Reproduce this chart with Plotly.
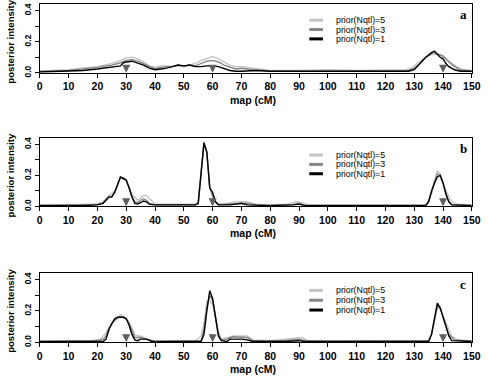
import plotly.graph_objects as go

# ---------------- data ----------------
PANELS = ["a", "b", "c"]
SERIES_NAMES = ["prior(Nqtl)=5", "prior(Nqtl)=3", "prior(Nqtl)=1"]
QTL_POSITIONS = [30, 60, 140]
X_TICKS = [0, 10, 20, 30, 40, 50, 60, 70, 80, 90, 100, 110, 120, 130, 140, 150]
Y_TICKS = [0.0, 0.2, 0.4]

# panel a
a5_x = [0, 10, 20, 25, 28, 30, 32, 34, 36, 38, 40, 42, 44, 46, 48, 50, 52, 54, 56, 58, 60, 62, 64, 66, 68, 70, 74, 78, 80, 90, 100, 110, 120, 127, 129, 131, 133, 135, 137, 139, 141, 143, 145, 147, 150]
a5_y = [0.01, 0.02, 0.04, 0.06, 0.08, 0.095, 0.1, 0.09, 0.07, 0.045, 0.035, 0.045, 0.045, 0.04, 0.045, 0.04, 0.05, 0.06, 0.08, 0.095, 0.105, 0.09, 0.07, 0.05, 0.04, 0.04, 0.03, 0.02, 0.015, 0.015, 0.02, 0.015, 0.02, 0.02, 0.03, 0.06, 0.09, 0.11, 0.12, 0.115, 0.09, 0.06, 0.035, 0.02, 0.015]
a3_x = [0, 10, 20, 25, 28, 30, 32, 34, 36, 38, 40, 42, 44, 46, 48, 50, 52, 54, 56, 58, 60, 62, 64, 66, 68, 70, 74, 78, 80, 90, 100, 110, 120, 128, 130, 132, 134, 136, 137, 138, 140, 142, 144, 146, 148, 150]
a3_y = [0.01, 0.015, 0.035, 0.05, 0.065, 0.08, 0.085, 0.075, 0.06, 0.04, 0.025, 0.035, 0.04, 0.04, 0.05, 0.04, 0.05, 0.045, 0.06, 0.075, 0.08, 0.07, 0.05, 0.035, 0.025, 0.03, 0.02, 0.015, 0.01, 0.01, 0.012, 0.01, 0.012, 0.015, 0.03, 0.06, 0.1, 0.125, 0.13, 0.125, 0.11, 0.07, 0.04, 0.02, 0.015, 0.01]
a1_x = [0, 5, 10, 15, 20, 25, 28, 29, 30, 32, 34, 36, 38, 40, 42, 44, 46, 48, 50, 52, 54, 56, 58, 60, 62, 64, 66, 68, 70, 75, 80, 90, 100, 110, 120, 128, 130, 132, 134, 136, 137, 138, 139, 140, 141, 142, 144, 146, 148, 150]
a1_y = [0.005, 0.007, 0.01, 0.015, 0.025, 0.035, 0.045, 0.065, 0.07, 0.075, 0.065, 0.05, 0.03, 0.02, 0.025, 0.03, 0.04, 0.05, 0.045, 0.05, 0.04, 0.04, 0.045, 0.045, 0.04, 0.025, 0.015, 0.01, 0.01, 0.015, 0.01, 0.01, 0.01, 0.01, 0.01, 0.01, 0.02, 0.06, 0.1, 0.13, 0.14, 0.12, 0.1, 0.09, 0.06, 0.04, 0.02, 0.01, 0.01, 0.01]

# panel b
b5_x = [0, 20, 22, 24, 26, 28, 30, 32, 34, 36, 37, 38, 40, 55, 56, 57, 58, 59, 60, 61, 63, 65, 68, 72, 75, 80, 86, 89, 91, 93, 100, 134, 136, 138, 139, 141, 143, 145, 150]
b5_y = [0.01, 0.015, 0.03, 0.07, 0.1, 0.18, 0.17, 0.08, 0.04, 0.07, 0.07, 0.05, 0.015, 0.015, 0.2, 0.42, 0.34, 0.13, 0.06, 0.03, 0.01, 0.02, 0.03, 0.03, 0.015, 0.01, 0.015, 0.03, 0.025, 0.01, 0.01, 0.01, 0.08, 0.23, 0.21, 0.1, 0.03, 0.015, 0.01]
b3_x = [0, 15, 20, 22, 23, 24, 25, 26, 27, 28, 29, 30, 31, 32, 33, 34, 35, 36, 37, 38, 40, 54, 55, 56, 57, 58, 59, 60, 61, 62, 66, 68, 72, 75, 80, 88, 90, 92, 100, 134, 135, 136, 137, 138, 139, 140, 141, 142, 143, 150]
b3_y = [0.008, 0.008, 0.012, 0.025, 0.045, 0.065, 0.065, 0.095, 0.14, 0.19, 0.185, 0.17, 0.12, 0.065, 0.03, 0.025, 0.04, 0.05, 0.04, 0.02, 0.01, 0.01, 0.02, 0.2, 0.41, 0.35, 0.12, 0.07, 0.03, 0.012, 0.015, 0.02, 0.02, 0.01, 0.008, 0.012, 0.02, 0.008, 0.008, 0.008, 0.03, 0.1, 0.16, 0.21, 0.2, 0.15, 0.08, 0.03, 0.012, 0.008]
b1_x = [0, 15, 20, 22, 23, 24, 25, 26, 27, 28, 29, 30, 31, 32, 33, 34, 35, 36, 37, 38, 40, 50, 54, 55, 56, 57, 58, 59, 60, 61, 62, 66, 68, 70, 72, 80, 88, 90, 92, 100, 134, 135, 136, 137, 138, 139, 140, 141, 142, 143, 150]
b1_y = [0.005, 0.005, 0.01, 0.02, 0.04, 0.06, 0.06, 0.09, 0.14, 0.19, 0.18, 0.17, 0.12, 0.06, 0.02, 0.015, 0.025, 0.035, 0.03, 0.015, 0.01, 0.01, 0.01, 0.02, 0.2, 0.41, 0.35, 0.12, 0.09, 0.03, 0.01, 0.01, 0.015, 0.02, 0.01, 0.005, 0.01, 0.015, 0.005, 0.005, 0.005, 0.03, 0.1, 0.15, 0.19, 0.2, 0.15, 0.08, 0.03, 0.01, 0.005]

# panel c
c5_x = [0, 18, 21, 23, 25, 27, 28, 29, 31, 33, 34, 35, 37, 40, 54, 56, 57, 58, 59, 60, 61, 62, 63, 65, 67, 72, 74, 80, 86, 90, 91, 93, 100, 135, 136, 137, 138, 139, 141, 143, 145, 150]
c5_y = [0.005, 0.01, 0.02, 0.06, 0.12, 0.16, 0.175, 0.17, 0.13, 0.05, 0.04, 0.04, 0.02, 0.005, 0.01, 0.04, 0.12, 0.26, 0.27, 0.24, 0.15, 0.06, 0.02, 0.03, 0.04, 0.04, 0.015, 0.01, 0.02, 0.025, 0.03, 0.01, 0.008, 0.01, 0.06, 0.14, 0.22, 0.21, 0.12, 0.04, 0.015, 0.01]
c3_x = [0, 20, 22, 23, 24, 26, 28, 30, 31, 32, 33, 34, 35, 37, 40, 56, 57, 58, 59, 60, 61, 62, 63, 65, 67, 72, 74, 85, 90, 92, 100, 135, 136, 137, 138, 139, 140, 142, 144, 150]
c3_y = [0.005, 0.01, 0.02, 0.04, 0.09, 0.14, 0.165, 0.15, 0.12, 0.07, 0.03, 0.03, 0.03, 0.02, 0.005, 0.01, 0.08, 0.22, 0.3, 0.27, 0.17, 0.06, 0.015, 0.02, 0.035, 0.03, 0.01, 0.01, 0.02, 0.01, 0.006, 0.01, 0.05, 0.15, 0.23, 0.22, 0.16, 0.05, 0.015, 0.005]
c1_x = [0, 22, 23, 24, 25, 26, 27, 28, 29, 30, 31, 32, 33, 34, 35, 37, 39, 56, 57, 58, 59, 60, 61, 62, 63, 65, 66, 70, 72, 74, 85, 90, 92, 100, 135, 136, 137, 138, 139, 140, 141, 142, 143, 150]
c1_y = [0.005, 0.005, 0.02, 0.08, 0.12, 0.15, 0.16, 0.16, 0.16, 0.15, 0.11, 0.05, 0.015, 0.01, 0.02, 0.02, 0.005, 0.005, 0.05, 0.2, 0.33, 0.28, 0.15, 0.04, 0.01, 0.005, 0.02, 0.02, 0.015, 0.005, 0.005, 0.01, 0.005, 0.005, 0.005, 0.05, 0.15, 0.25, 0.22, 0.16, 0.09, 0.04, 0.01, 0.005]

PANEL_DATA = {
    "a": [(a5_x, a5_y), (a3_x, a3_y), (a1_x, a1_y)],
    "b": [(b5_x, b5_y), (b3_x, b3_y), (b1_x, b1_y)],
    "c": [(c5_x, c5_y), (c3_x, c3_y), (c1_x, c1_y)],
}

# ---------------- style / layout ----------------
W, H = 488, 381
COLORS = ["#c4c4c4", "#858585", "#000000"]
X0, X1 = 37.7, 480.7                     # plot box left/right (px)
PANEL_PX = {"a": (3, 73), "b": (139, 208.7), "c": (276.3, 346.7)}  # top, bottom
LEGEND_ROWS = {"a": (19.5, 29.0, 38.5), "b": (156.5, 166.0, 175.5), "c": (294.0, 304.0, 314.0)}
LETTER_Y = {"a": 14, "b": 150, "c": 288}
YMAX = 0.443

NARROW = "Liberation Sans Narrow, Arial Narrow, Liberation Sans, Arial, sans-serif"
SANS = "Liberation Sans, Arial, sans-serif"

def px_x(p):
    return p / W

def px_y(p):
    return 1 - p / H

fig = go.Figure()
layout = dict(
    width=W, height=H, margin=dict(l=0, r=0, t=0, b=0),
    paper_bgcolor="white", plot_bgcolor="white", showlegend=False,
)
annotations = []
shapes = []

for i, p in enumerate(PANELS):
    sfx = "" if i == 0 else str(i + 1)
    top, bot = PANEL_PX[p]
    xa = dict(
        domain=[px_x(X0), px_x(X1)], range=[0, 150], anchor="y" + sfx,
        tickmode="array", tickvals=X_TICKS, ticktext=[str(v) for v in X_TICKS],
        ticks="outside", ticklen=4, tickwidth=1, tickcolor="#000",
        ticklabeloverflow="allow",
        showline=True, linecolor="#000", linewidth=1, mirror=True,
        showgrid=False, zeroline=False,
        tickfont=dict(family=NARROW, size=10.5, color="#000", weight="bold"),
    )
    ya = dict(
        domain=[px_y(bot), px_y(top)], range=[0, YMAX], anchor="x" + sfx,
        tickmode="array", tickvals=Y_TICKS, ticktext=["0.0", "0.2", "0.4"],
        tickangle=-90,
        ticks="outside", ticklen=4, tickwidth=1, tickcolor="#000",
        minor=dict(dtick=0.1, tick0=0, ticks="outside", ticklen=4, tickcolor="#000", showgrid=False),
        showline=True, linecolor="#000", linewidth=1, mirror=True,
        showgrid=False, zeroline=False,
        tickfont=dict(family=SANS, size=8.5, color="#000", weight="bold"),
    )
    layout["xaxis" + sfx] = xa
    layout["yaxis" + sfx] = ya

    for (xs, ys), name, col in zip(PANEL_DATA[p], SERIES_NAMES, COLORS):
        fig.add_trace(go.Scatter(
            x=xs, y=ys, mode="lines", name=name,
            line=dict(color=col, width=1.4),
            xaxis="x" + sfx, yaxis="y" + sfx,
        ))

    # QTL arrows
    for q in QTL_POSITIONS:
        annotations.append(dict(
            x=q, y=0.0, ax=q, ay=0.06, xref="x" + sfx, yref="y" + sfx,
            axref="x" + sfx, ayref="y" + sfx, text="", showarrow=True,
            arrowhead=2, arrowsize=0.9, arrowwidth=1.8, arrowcolor="#606060",
        ))

    # y title
    annotations.append(dict(
        x=px_x(7.5), y=px_y((top + bot) / 2 + 3), xref="paper", yref="paper",
        text="posterior intensity", textangle=-90, showarrow=False,
        font=dict(family=SANS, size=9.6, color="#000", weight="bold"),
        xanchor="center", yanchor="middle",
    ))
    # x title
    annotations.append(dict(
        x=px_x(256), y=px_y(bot + 27.5), xref="paper", yref="paper",
        text="map (cM)", showarrow=False,
        font=dict(family=NARROW, size=10.5, color="#000", weight="bold"),
        xanchor="center", yanchor="middle",
    ))
    # panel letter
    annotations.append(dict(
        x=px_x(472), y=px_y(LETTER_Y[p]), xref="paper", yref="paper",
        text=p, showarrow=False,
        font=dict(family="Liberation Serif, Times New Roman, serif", size=13, color="#000", weight="bold"),
        xanchor="center", yanchor="middle",
    ))
    # legend
    for row_y, name, col in zip(LEGEND_ROWS[p], SERIES_NAMES, COLORS):
        shapes.append(dict(
            type="line", xref="paper", yref="paper",
            x0=px_x(314), x1=px_x(328), y0=px_y(row_y), y1=px_y(row_y),
            line=dict(color=col, width=3),
        ))
        annotations.append(dict(
            x=px_x(339), y=px_y(row_y), xref="paper", yref="paper",
            text=name, showarrow=False,
            font=dict(family=SANS, size=8.8, color="#000"),
            xanchor="left", yanchor="middle",
        ))

layout["annotations"] = annotations
layout["shapes"] = shapes
fig.update_layout(**layout)
fig.write_html(
    "out.html",
    config={"displayModeBar": False},
    post_script="document.body.style.margin='0';document.body.style.overflow='hidden';",
)
